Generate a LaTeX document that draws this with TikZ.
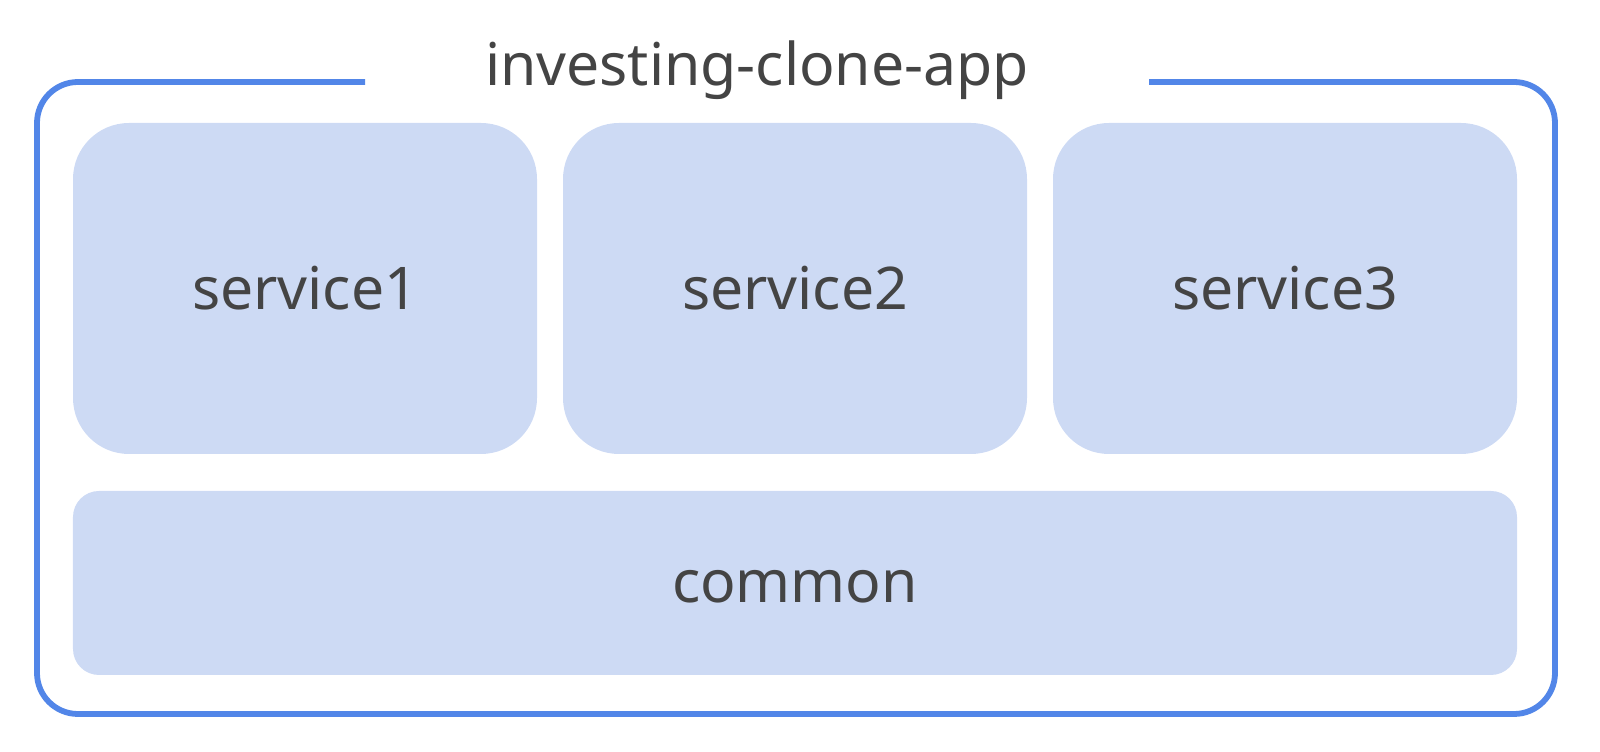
\documentclass[tikz,border=0pt]{standalone}
\usepackage{fontspec}
\setmainfont{Noto Sans}
\usepackage{tikz}
\usetikzlibrary{positioning}
\definecolor{frameblue}{HTML}{5286E8}
\definecolor{boxfill}{HTML}{CDDAF4}
\definecolor{labelgray}{HTML}{444444}

\begin{document}
\begin{tikzpicture}[module/.style={rectangle, fill=boxfill, inner sep=0pt, text=labelgray, font=\fontsize{33.5}{40}\selectfont},
    service/.style={module, rounded corners=1.12cm, minimum width=9.28cm, minimum height=6.62cm},
    title/.style={text=labelgray, inner sep=0pt, font=\fontsize{33.5}{40}\selectfont}]
        \useasboundingbox (0,0) rectangle (32,15.04);
        \node at (15.14,13.32) [title, anchor=base] (app) {investing-clone-app};
        \coordinate (gapl) at (7.3,13.4);
        \coordinate (gapr) at (22.98,13.4);
        \draw [frameblue, line width=3.3pt, rounded corners=0.82cm] (gapl) -- (0.74,13.4) -- (0.74,0.76) -- (31.1,0.76) -- (31.1,13.4) -- (gapr);
        \node at (6.1,9.27) [service] (s1) {service1};
        \node at (15.9,9.27) [service] (s2) {service2};
        \node at (25.7,9.27) [service] (s3) {service3};
        \node at (15.9,3.38) [module, rounded corners=0.52cm, minimum width=28.88cm, minimum height=3.68cm, text height=0.8cm, text depth=0pt] (common) {common};
    \end{tikzpicture}
\end{document}
